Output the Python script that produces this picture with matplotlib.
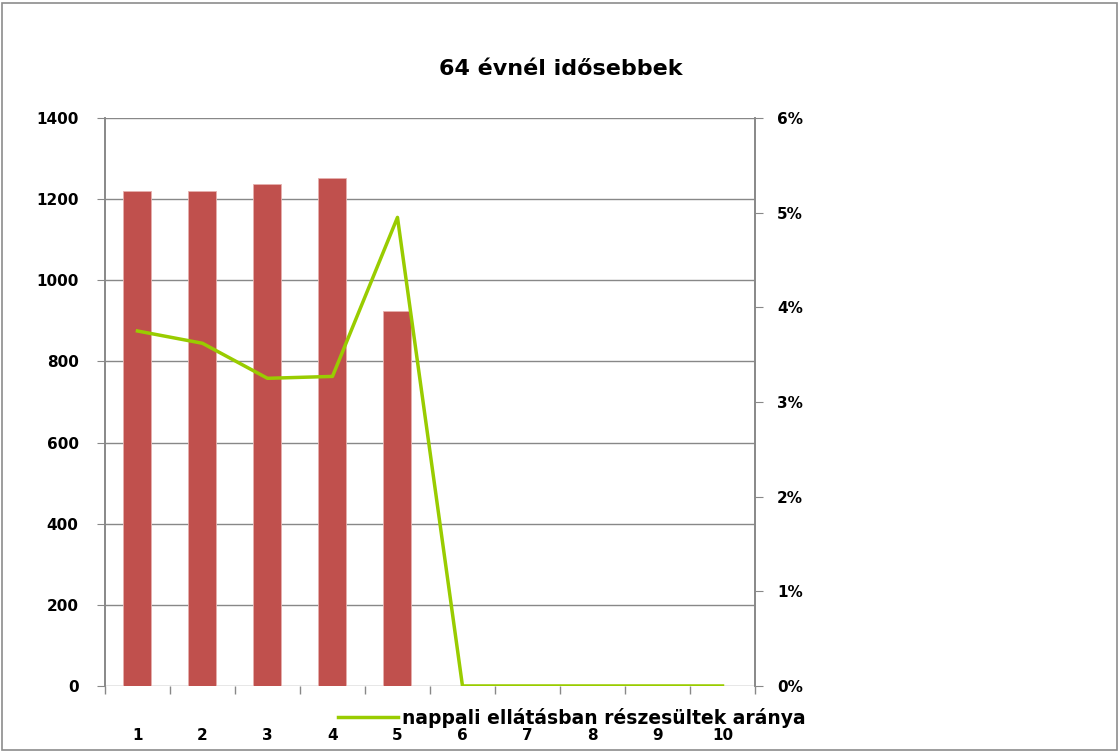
import numpy as np
import matplotlib
matplotlib.use("Agg")
import matplotlib.pyplot as plt
from matplotlib.patches import Rectangle

# data
categories = ["1", "2", "3", "4", "5", "6", "7", "8", "9", "10"]
counts = [1220, 1220, 1237, 1252, 924, 0, 0, 0, 0, 0]
share = [0.0375, 0.0362, 0.0325, 0.0327, 0.0495, 0, 0, 0, 0, 0]
line_label = "nappali ellátásban részesültek aránya"
title = "64 évnél idősebbek"

plt.rcParams['font.family'] = ['DejaVu Sans']
plt.rcParams['font.weight'] = 'bold'

fig = plt.figure(figsize=(11.19, 7.51), dpi=100)
ax = fig.add_axes([0.0938, 0.0866, 0.5809, 0.7563])
ax2 = ax.twinx()

x = np.arange(len(categories))
ax.bar(x, counts, width=0.43, color='#c0504d', edgecolor='#e6b0ae', linewidth=0.6, zorder=3)
ax2.plot(x, share, color='#99cc00', linewidth=2.5, label=line_label, zorder=4)

ax.set_xlim(-0.5, len(categories) - 0.5)
ax.set_ylim(0, 1400)
ax.set_yticks(range(0, 1401, 200))
ax2.set_ylim(0, 0.06)
ax2.set_yticks(np.arange(0, 0.061, 0.01))
ax2.set_yticklabels([f"{int(round(v * 100))}%" for v in np.arange(0, 0.061, 0.01)])

ax.set_xticks(x)
ax.set_xticklabels(categories)
ax.set_xticks(np.arange(-0.5, len(categories), 1), minor=True)
ax.tick_params(axis='x', which='major', length=0, pad=30, labelsize=11)
ax.tick_params(axis='x', which='minor', length=6, color='#888888', width=1)
ax.tick_params(axis='y', length=6, color='#888888', labelsize=11, pad=13)
ax2.tick_params(axis='y', length=6, color='#888888', labelsize=11, pad=10)

ax.grid(axis='y', color='#888888', linewidth=1, zorder=0)
ax.set_axisbelow(True)
for a in (ax, ax2):
    for side in ('top', 'bottom'):
        a.spines[side].set_visible(False)
    a.spines['left'].set_color('#888888')
    a.spines['right'].set_color('#888888')
    a.spines['left'].set_linewidth(1.2)
    a.spines['right'].set_linewidth(1.2)

fig.text(0.5015, 0.908, title, ha='center', va='center', fontsize=16, fontweight='bold')

fig.legend(loc='center', bbox_to_anchor=(0.511, 0.044), frameon=False,
           handlelength=3.2, fontsize=13.5, handletextpad=0.2)

fig.patches.append(Rectangle((0.0015, 0.0015), 0.997, 0.995, transform=fig.transFigure,
                             fill=False, edgecolor='#8c8c8c', linewidth=1.2))

fig.savefig("out.png", dpi=100)
